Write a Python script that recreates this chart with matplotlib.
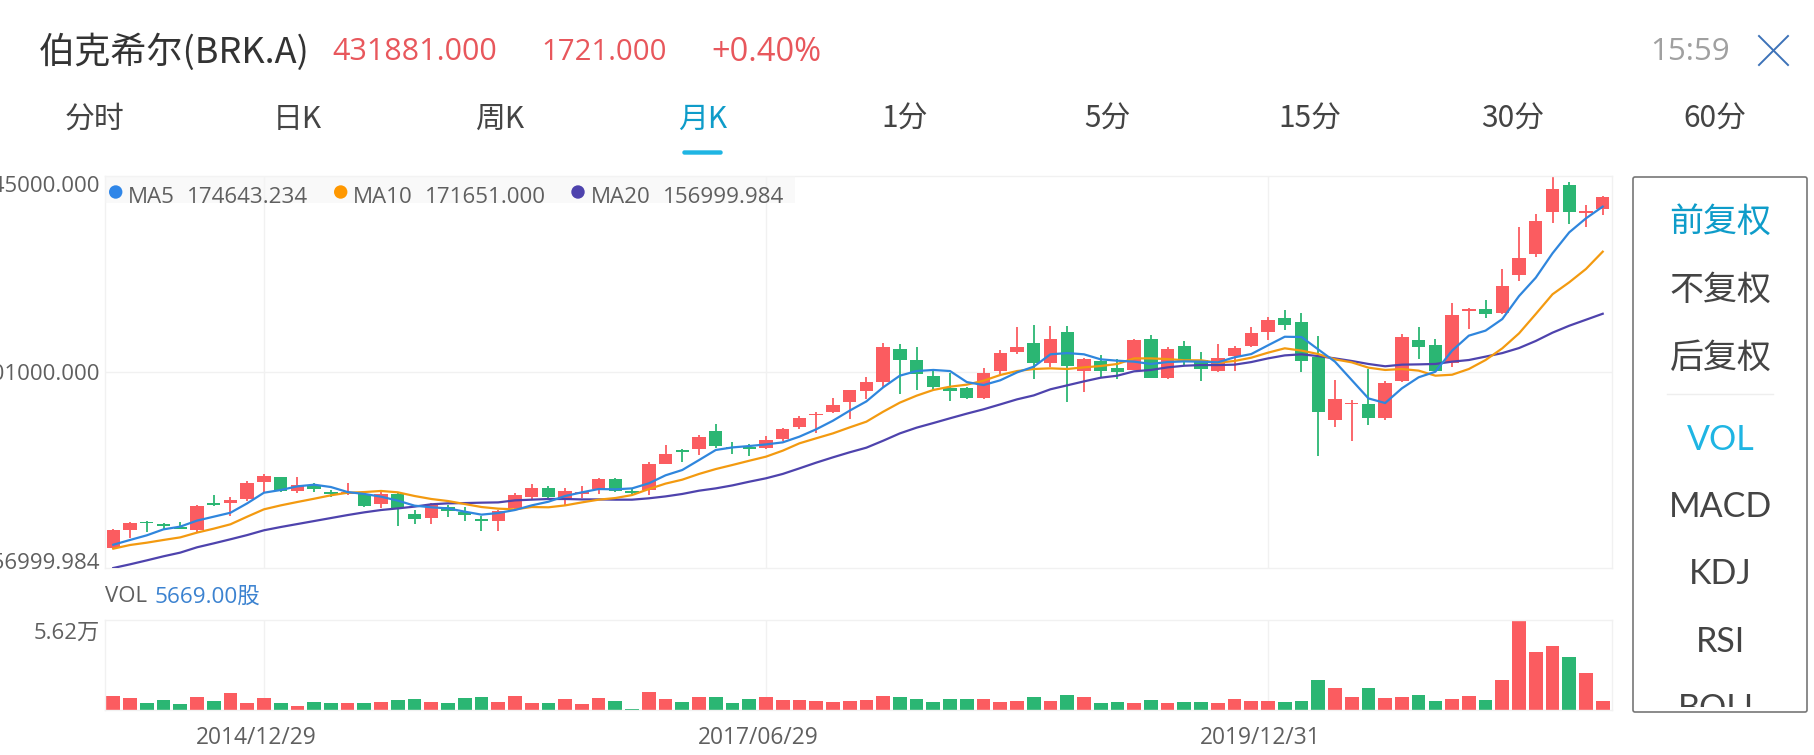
import matplotlib
matplotlib.use("Agg")
import matplotlib.pyplot as plt
from matplotlib.patches import Circle, FancyBboxPatch, Rectangle
from matplotlib.transforms import ScaledTranslation

# ---- data (prices in thousands of USD, monthly candles) ----
body_up = [184.7,190.3,190.8,189.1,187.1,202.5,204.5,206.7,219.7,224.8,223.8,217.7,217.7,212.6,212.8,211.4,211.1,211.1,196.7,203.5,
           201.6,198.1,192.7,199.1,210.4,215.5,215.8,213.6,212.8,222.4,222.1,213.3,233.4,240.5,243.4,253.5,257.9,246.1,245.6,251.0,
           259.1,267.4,270.4,276.5,287.5,293.4,319.1,317.6,310.1,297.8,289.0,289.2,300.5,314.9,319.1,322.3,325.2,330.6,310.8,308.8,
           303.7,324.5,325.0,317.6,320.3,309.8,311.0,318.4,329.6,338.9,340.4,337.5,312.3,280.9,278.5,277.5,293.2,326.9,324.7,320.6,
           342.9,347.3,347.3,363.9,385.0,411.9,435.4,438.1,419.0,429.6]
body_dn = [171.4,185.2,190.1,187.6,185.9,184.9,203.3,204.5,207.9,220.4,213.6,213.6,214.8,211.6,211.4,202.3,204.3,201.1,192.7,193.7,
           199.1,195.7,191.8,191.8,201.1,209.2,208.9,207.9,211.6,215.0,213.8,212.3,214.1,233.4,242.2,244.4,246.6,245.2,244.7,245.4,
           251.5,260.3,269.4,271.6,278.7,287.0,293.6,310.1,299.5,290.2,287.0,281.6,281.6,302.0,315.4,307.4,307.8,305.6,301.7,302.0,
           301.0,302.5,296.8,296.6,309.8,303.0,302.0,312.7,320.1,330.6,335.5,308.8,271.8,265.7,277.2,266.9,267.2,294.6,319.6,302.0,
           307.4,346.1,343.8,344.6,372.3,387.7,418.5,418.5,418.1,420.7]
highs = [185.9,191.0,191.8,189.8,191.0,203.0,210.4,209.2,220.7,226.1,224.1,224.1,219.2,214.3,219.7,212.3,212.8,211.8,199.6,204.5,
         203.3,201.6,195.2,199.6,211.8,218.7,217.2,215.5,217.2,222.9,223.1,215.0,235.1,247.1,244.2,254.5,262.5,249.6,248.3,254.2,
         259.6,268.9,271.8,281.9,287.5,297.1,322.1,321.6,319.1,303.4,300.0,290.2,303.7,317.2,333.8,335.3,334.5,334.5,311.3,313.2,
         310.5,325.0,327.9,319.4,324.0,315.4,321.3,319.8,334.3,341.6,346.8,344.3,327.4,295.1,280.2,303.0,294.1,328.7,334.3,325.5,
         351.9,347.8,354.1,376.7,407.3,417.3,445.0,440.6,423.7,430.1]
lows = [170.7,179.3,183.7,185.4,185.4,183.2,202.3,195.4,206.5,212.3,212.8,212.3,212.6,209.4,210.9,202.1,201.3,187.6,189.3,189.6,
        194.7,191.8,184.4,184.4,200.1,207.4,207.9,203.3,208.2,211.6,213.1,211.4,210.9,233.2,234.9,240.0,245.4,240.5,239.0,244.7,
        250.1,259.4,255.9,271.1,266.7,280.9,290.2,285.1,288.0,287.8,279.9,281.4,281.2,299.5,314.2,295.6,304.4,279.2,286.3,297.1,
        295.6,302.5,296.3,296.1,306.1,294.1,300.7,302.0,319.6,324.5,331.6,300.7,239.3,260.8,250.5,262.3,266.0,293.9,310.3,301.5,
        304.9,332.8,340.4,343.6,368.1,385.2,410.7,409.5,407.3,416.6]
# True where the month closed higher (red candle)
up = [1,1,0,0,0,1,0,1,1,1,0,1,0,0,1,0,1,0,0,1,
      0,0,0,1,1,1,0,1,1,1,0,0,1,1,0,1,0,0,0,1,
      1,1,1,1,1,1,1,0,0,0,0,0,1,1,1,0,1,0,1,0,
      0,1,0,1,0,0,1,1,1,1,0,0,0,1,1,0,1,1,0,0,
      1,1,0,1,1,1,1,0,1,1]
ma5 = [174.1,177.6,181.0,185.4,187.4,191.8,194.7,197.6,204.5,212.3,214.3,217.0,218.2,216.5,212.8,211.4,209.4,206.5,202.8,201.6,
       200.8,198.4,196.2,197.4,199.6,203.0,205.7,209.9,212.6,215.0,214.8,215.5,219.2,225.1,229.0,236.3,243.7,245.6,246.6,247.8,
       249.3,253.5,258.9,265.2,272.6,279.4,289.7,298.3,301.7,302.5,301.7,293.6,291.4,294.9,300.7,304.9,314.0,314.9,314.0,310.3,
       309.3,308.6,306.9,308.3,308.8,308.6,308.1,311.8,314.2,320.6,326.9,326.7,317.6,308.6,295.1,281.6,278.2,289.0,297.1,301.2,
       316.7,327.7,331.4,339.9,356.8,370.3,388.2,403.6,413.9,422.5]
ma10 = [171.2,173.9,175.6,177.6,179.5,183.0,185.9,189.1,194.7,200.1,203.0,205.5,207.9,210.4,212.3,212.8,213.6,212.6,209.9,207.7,
        206.2,204.0,201.8,200.6,200.1,201.8,201.6,203.0,205.2,207.2,208.4,210.6,215.0,219.0,221.9,226.1,229.7,232.7,235.8,238.8,
        243.2,248.6,252.3,255.9,260.3,264.5,271.8,278.5,283.6,287.8,290.2,291.7,294.6,298.8,301.7,303.2,303.7,303.2,304.4,305.4,
        306.9,311.0,311.0,310.5,309.6,309.6,307.8,309.1,311.5,315.2,318.4,316.7,314.2,310.3,308.1,304.2,302.5,303.2,302.0,298.3,
        299.0,303.2,309.8,318.4,329.4,343.6,358.1,366.9,376.7,389.4]
ma20 = [157.0,159.7,162.6,165.6,168.3,172.2,175.1,178.1,181.2,184.7,187.1,189.3,191.5,193.7,195.9,197.9,199.6,200.8,202.1,203.8,
        204.5,204.7,205.0,205.2,206.7,207.2,207.7,207.7,207.4,207.4,207.2,207.2,208.2,209.6,211.4,213.8,215.5,217.7,220.4,222.9,
        226.1,230.2,234.4,238.3,242.0,245.4,250.5,255.9,260.1,263.5,267.0,270.4,273.6,277.2,280.9,283.8,288.3,291.2,294.1,296.8,
        298.3,301.5,302.5,304.4,305.6,306.1,306.1,306.4,308.3,311.0,313.2,314.0,312.7,311.0,309.1,306.9,305.2,306.4,306.6,306.9,
        308.6,309.8,312.3,314.9,318.6,323.8,329.9,335.0,339.4,343.8]
volumes = [8700,7300,4400,6000,4000,7900,5800,10800,4200,7500,4200,2500,4800,4600,4400,4200,5000,6000,6900,5200,
           4400,7700,8100,5000,8500,4600,4400,6700,4000,7300,5400,600,11200,6700,4800,7900,8300,4400,6900,7900,
           6200,6200,5600,4800,5800,6000,8700,7900,6700,5000,6900,6700,6700,5200,5600,8300,5400,9400,8100,4600,
           5000,4200,6400,4400,5200,5200,4600,7100,5600,5600,5000,5800,18700,13500,8100,13700,7500,7900,9200,5400,
           7100,8700,6200,18500,56200,36000,39700,32900,23100,5669]
date_ticks = [9, 39, 69]
date_labels = ["2014/12/29", "2017/06/29", "2019/12/31"]
price_ticks = [157, 301, 445]
price_labels = ["156999.984", "301000.000", "445000.000"]
legend_names = ["MA5", "MA10", "MA20"]
legend_values = ["174643.234", "171651.000", "156999.984"]
tabs = ["分时", "日K", "周K", "月K", "1分", "5分", "15分", "30分", "60分"]
side_items = ["前复权", "不复权", "后复权", "VOL", "MACD", "KDJ", "RSI", "BOLL"]

# ---- styles ----
RED, GREEN = "#fb5c60", "#2bb673"
BLUE, ORANGE, PURPLE = "#2f86dd", "#f39a10", "#4e43ad"
GRID = "#f1f1f1"
TXT = "#5f5f5f"
ACTIVE = "#0e9cc9"
CYAN = "#1fb5e3"
LATIN = ["Open Sans", "Noto Sans CJK SC", "DejaVu Sans"]
CJK = ["Noto Sans CJK SC", "Open Sans", "DejaVu Sans"]
plt.rcParams["font.family"] = LATIN

W, H = 1815, 755
fig = plt.figure(figsize=(W / 100, H / 100), dpi=100, facecolor="white")

def axes_px(l, t, r, b, **kw):
    return fig.add_axes([l / W, 1 - b / H, (r - l) / W, (b - t) / H], **kw)

def nudge(label, dx_px, dy_px):
    """Shift a tick label by screen pixels (dy_px positive = downwards)."""
    label.set_transform(label.get_transform() +
                        ScaledTranslation(dx_px / 100, -dy_px / 100, fig.dpi_scale_trans))

STEP = 16.735
X0 = 113.3
L, R = 105, 1611.7
xlim = ((L - X0) / STEP, (R - X0) / STEP)
xs = list(range(len(up)))
colors = [RED if u else GREEN for u in up]

# ---- price panel ----
ax = axes_px(L, 176, R, 568)
ax.set_xlim(*xlim)
ax.set_ylim(157, 445)
for s in ax.spines.values():
    s.set_color(GRID); s.set_linewidth(1)
for d in date_ticks:
    ax.axvline(d, color=GRID, lw=1, zorder=0)
ax.axhline(301, color=GRID, lw=1, zorder=0)
ax.vlines(xs, lows, highs, colors=colors, lw=1.3, zorder=2)
ax.bar(xs, [t - b for t, b in zip(body_up, body_dn)], bottom=body_dn, width=0.8, color=colors, lw=0, zorder=2)
ax.plot(xs, ma20, color=PURPLE, lw=1.6, zorder=3, solid_joinstyle="round")
ax.plot(xs, ma10, color=ORANGE, lw=1.6, zorder=4, solid_joinstyle="round")
ax.plot(xs, ma5, color=BLUE, lw=1.6, zorder=5, solid_joinstyle="round")
ax.set_xticks([])
ax.set_yticks(price_ticks, labels=price_labels)
ax.tick_params(axis="y", length=0, pad=3.6, labelsize=16, labelcolor=TXT)
for lab, va, dy in zip(ax.get_yticklabels(), ["bottom", "center", "top"], [6, 2, 0.5]):
    lab.set_va(va)
    nudge(lab, 0, dy)

# ---- volume panel ----
axv = axes_px(L, 619.5, R, 710)
axv.set_xlim(*xlim)
axv.set_ylim(0, 56200)
for s in axv.spines.values():
    s.set_color(GRID); s.set_linewidth(1)
for d in date_ticks:
    axv.axvline(d, color=GRID, lw=1, zorder=0)
axv.bar(xs, volumes, width=0.82, color=colors, lw=0, zorder=2)
axv.set_xticks(date_ticks, labels=date_labels)
axv.tick_params(axis="x", length=0, pad=11.7, labelsize=16.4, labelcolor=TXT)
for lab in axv.get_xticklabels():
    nudge(lab, -8, 0)
axv.set_yticks([56200], labels=["5.62万"])
axv.tick_params(axis="y", length=0, pad=3.6, labelsize=16, labelcolor=TXT)
for lab in axv.get_yticklabels():
    lab.set_va("top")
    nudge(lab, 0, 3)

# ---- page furniture in pixel coordinates ----
ov = fig.add_axes([0, 0, 1, 1], facecolor="none")
ov.set_xlim(0, W); ov.set_ylim(H, 0); ov.axis("off")

ov.text(39, 52.5, "伯克希尔(BRK.A)", fontsize=26, family=CJK, color="#333333", va="center")
for x, s, fs in zip([332, 541, 711], ["431881.000", "1721.000", "+0.40%"], [22, 21.2, 23.5]):
    ov.text(x, 52.5, s, fontsize=fs, color="#e8575c", va="center")
ov.text(1690, 52.5, "15:59", fontsize=22.5, color="#a0a0a0", ha="center", va="center")
ov.plot([1759, 1788], [36, 65], color="#3d72b8", lw=1.4)
ov.plot([1759, 1788], [65, 36], color="#3d72b8", lw=1.4)

for i, s in enumerate(tabs):
    ov.text(95 + 202.5 * i, 119.5, s, fontsize=21.5, family=CJK, ha="center", va="center",
            color=ACTIVE if s == "月K" else "#444444")
ov.add_patch(FancyBboxPatch((683, 151), 39, 3, boxstyle="round,pad=0,rounding_size=1.5", fc=CYAN, ec=CYAN, lw=1))

# MA legend
ov.add_patch(Rectangle((105, 176), 690, 27, fc="#f5f5f5", ec="none", alpha=0.6))
for dot_x, name_x, val_x, name, val, c in zip([115.7, 340.7, 578], [127.7, 353, 591], [186.7, 425, 663],
                                              legend_names, legend_values, ["#2f86e8", "#ff9800", PURPLE]):
    ov.add_patch(Circle((dot_x, 192), 6.7, fc=c, ec="none"))
    ov.text(name_x, 197.5, name, fontsize=16.1, color=TXT, va="center")
    ov.text(val_x, 197.5, val, fontsize=16.1, color=TXT, va="center")

# VOL caption
ov.text(105, 597, "VOL", fontsize=16, color=TXT, va="center")
ov.text(155, 597, "5669.00股", fontsize=16.2, color="#3b82d0", va="center")

# side menu
ov.add_patch(FancyBboxPatch((1633, 177), 174, 535, boxstyle="round,pad=0,rounding_size=2", fc="white", ec="#777777", lw=1.2))
ov.plot([1667, 1773], [394, 394], color="#eeeeee", lw=1)
side_y = [222, 290.5, 358, 440, 507, 574.5, 641.5, 709]
side_c = [ACTIVE, "#444444", "#444444", CYAN, "#444444", "#444444", "#444444", "#444444"]
clip = Rectangle((1633, 177), 174, 530, transform=ov.transData)
for s, y, c in zip(side_items, side_y, side_c):
    fam = CJK if s.endswith("权") else ["Lato", "DejaVu Sans"]
    t = ov.text(1720.5, y, s, fontsize=24.5, family=fam, color=c, ha="center", va="center")
    t.set_clip_on(True)
    t.set_clip_path(clip)

fig.savefig("out.png", dpi=100, facecolor="white")
